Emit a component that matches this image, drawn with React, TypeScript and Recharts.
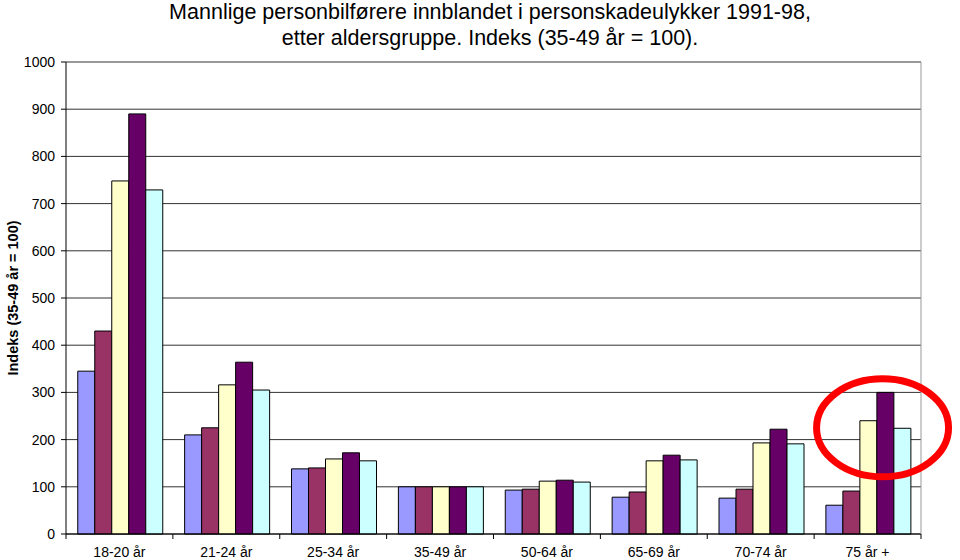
import { BarChart, Bar, XAxis, YAxis, CartesianGrid, ReferenceDot } from 'recharts';

const categories = ['18-20 år', '21-24 år', '25-34 år', '35-49 år', '50-64 år', '65-69 år', '70-74 år', '75 år +'];

const serie1 = [345, 210, 138, 100, 93, 78, 76, 61];
const serie2 = [430, 225, 140, 100, 95, 89, 95, 91];
const serie3 = [748, 316, 159, 100, 112, 155, 193, 240];
const serie4 = [890, 364, 172, 100, 114, 167, 222, 300];
const serie5 = [729, 305, 155, 100, 110, 157, 191, 224];

const yTicks = [0, 100, 200, 300, 400, 500, 600, 700, 800, 900, 1000];

const colors = ['#9999FF', '#993366', '#FFFFCC', '#660066', '#CCFFFF'];

const data = categories.map((name, i) => ({
    name,
    s1: serie1[i],
    s2: serie2[i],
    s3: serie3[i],
    s4: serie4[i],
    s5: serie5[i],
}));

const font = '"Liberation Sans", Arial, sans-serif';

// excel-style x tick: label at the centre, tick mark on the band edge
function CategoryTick(props: any) {
    const { x, y, payload, index, visibleTicksCount } = props;
    const half = payload && payload.offset ? payload.offset : 53.5;
    const isLast = index === visibleTicksCount - 1;
    return (
        <g>
            <line x1={x - half} x2={x - half} y1={y - 8} y2={y - 3} stroke="#000" />
            {isLast && <line x1={x + half} x2={x + half} y1={y - 8} y2={y - 3} stroke="#000" />}
            <text x={x} y={y + 15} textAnchor="middle" fontSize={14} fill="#000" fontFamily={font}>
                {payload.value}
            </text>
        </g>
    );
}

function Ring(props: any) {
    const { cx, cy } = props;
    if (cx == null || cy == null) return <g />;
    return <ellipse cx={cx + 15} cy={cy} rx={66} ry={49} fill="none" stroke="#FF0000" strokeWidth={7} />;
}

export default function App() {
    return (
        <div style={{ position: 'absolute', left: 0, top: 0, width: 960, height: 560, background: '#fff', fontFamily: font }}>
            <div
                style={{
                    position: 'absolute',
                    left: 0,
                    top: -1,
                    width: 980,
                    textAlign: 'center',
                    fontSize: 21.5,
                    lineHeight: '26px',
                    color: '#000',
                    zIndex: 2,
                }}
            >
                Mannlige personbilførere innblandet i personskadeulykker 1991-98,
                <br />
                etter aldersgruppe. Indeks (35-49 år = 100).
            </div>
            <BarChart
                width={960}
                height={560}
                data={data}
                margin={{ top: 62, right: 38, left: 0, bottom: 0 }}
                barCategoryGap="11%"
                barGap={0}
            >
                <CartesianGrid vertical={false} stroke="#333" />
                <XAxis
                    dataKey="name"
                    axisLine={{ stroke: '#000' }}
                    tickLine={false}
                    tick={<CategoryTick />}
                    interval={0}
                    height={26}
                />
                <YAxis
                    domain={[0, 1000]}
                    ticks={yTicks}
                    interval={0}
                    width={66}
                    axisLine={{ stroke: '#000' }}
                    tickLine={{ stroke: '#000' }}
                    tickSize={5}
                    tickMargin={6}
                    tick={{ fontSize: 14, fill: '#000', fontFamily: font }}
                    label={{
                        value: 'Indeks (35-49 år = 100)',
                        angle: -90,
                        position: 'insideLeft',
                        offset: 13,
                        style: { textAnchor: 'middle', fontSize: 14.5, fontWeight: 'bold', fill: '#000', fontFamily: font },
                    }}
                />
                <YAxis
                    yAxisId="edge"
                    orientation="right"
                    domain={[0, 1000]}
                    width={1}
                    tick={false}
                    tickLine={false}
                    axisLine={{ stroke: '#999' }}
                />
                <Bar dataKey="s1" name="s1" fill={colors[0]} stroke="#000" strokeWidth={1} isAnimationActive={false} />
                <Bar dataKey="s2" name="s2" fill={colors[1]} stroke="#000" strokeWidth={1} isAnimationActive={false} />
                <Bar dataKey="s3" name="s3" fill={colors[2]} stroke="#000" strokeWidth={1} isAnimationActive={false} />
                <Bar dataKey="s4" name="s4" fill={colors[3]} stroke="#000" strokeWidth={1} isAnimationActive={false} />
                <Bar dataKey="s5" name="s5" fill={colors[4]} stroke="#000" strokeWidth={1} isAnimationActive={false} />
                <ReferenceDot x="75 år +" y={225} ifOverflow="visible" shape={<Ring />} />
            </BarChart>
        </div>
    );
}
